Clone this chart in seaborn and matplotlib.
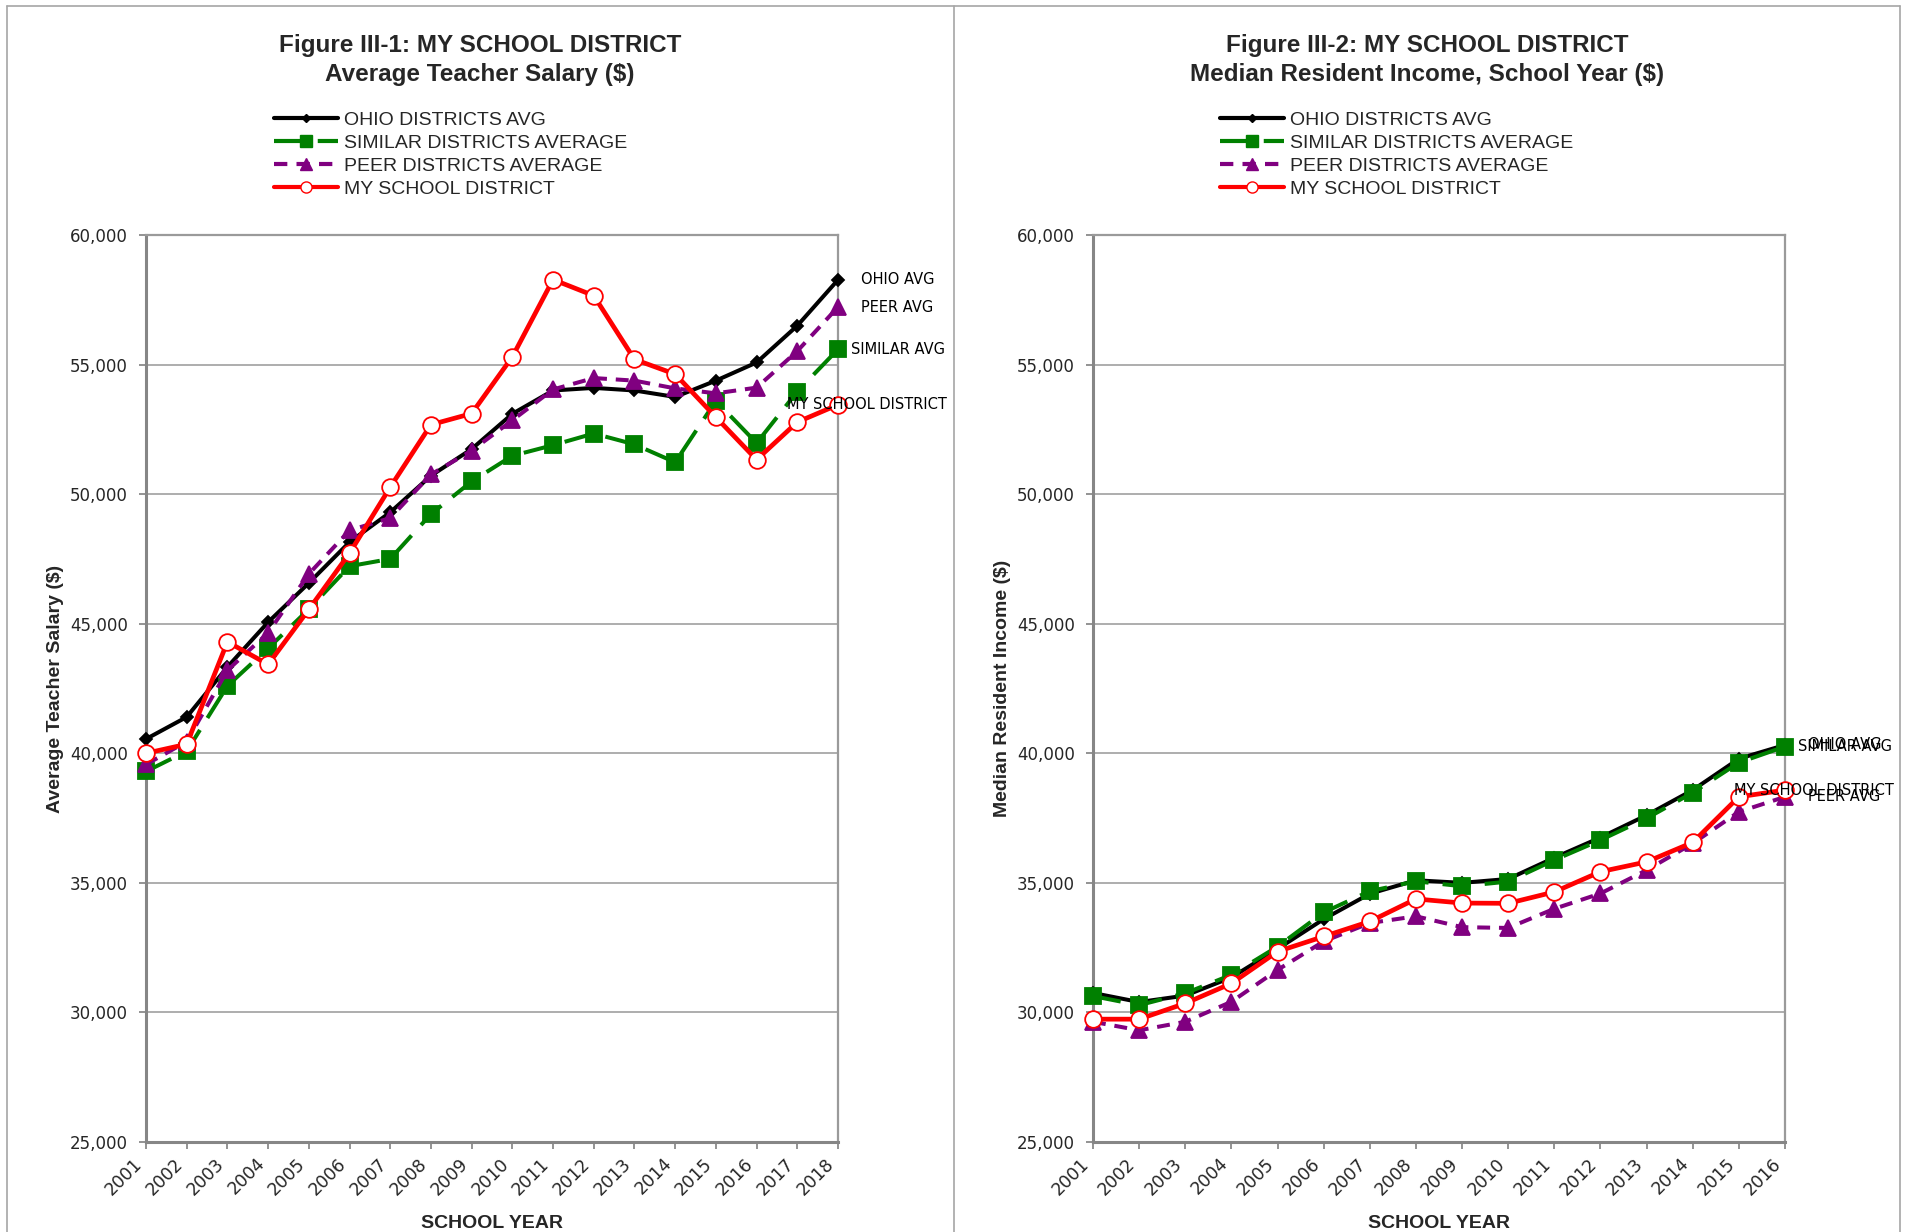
import matplotlib
matplotlib.use("Agg")
import matplotlib.pyplot as plt
from matplotlib.lines import Line2D
from matplotlib.ticker import FuncFormatter
from matplotlib.transforms import ScaledTranslation
import seaborn as sns

# ---- data ----
years_salary = list(range(2001, 2019))
ohio_salary = [40550, 41400, 43330, 45060, 46570, 48150, 49300, 50710, 51740,
               53100, 54000, 54100, 54000, 53750, 54380, 55080, 56500, 58270]
similar_salary = [39300, 40080, 42600, 44050, 45560, 47220, 47500, 49230, 50490,
                  51480, 51890, 52340, 51920, 51230, 53600, 51970, 53960, 55590]
peer_salary = [39570, 40450, 43200, 44650, 46920, 48600, 49080, 50760, 51680,
               52850, 54040, 54480, 54380, 54080, 53890, 54110, 55520, 57220]
my_salary = [40000, 40350, 44300, 43430, 45550, 47720, 50270, 52680, 53110,
             55300, 58280, 57660, 55200, 54630, 52970, 51330, 52780, 53450]

years_income = list(range(2001, 2017))
ohio_income = [30750, 30400, 30650, 31350, 32450, 33600, 34580, 35100, 35000,
               35150, 35970, 36750, 37610, 38580, 39790, 40320]
similar_income = [30630, 30280, 30740, 31450, 32540, 33860, 34680, 35060, 34870,
                  35050, 35880, 36650, 37490, 38480, 39640, 40260]
peer_income = [29640, 29310, 29640, 30410, 31640, 32740, 33450, 33710, 33290,
               33260, 34000, 34590, 35490, 36520, 37740, 38320]
my_income = [29740, 29740, 30350, 31120, 32350, 32930, 33510, 34380, 34220,
             34210, 34650, 35430, 35810, 36560, 38320, 38580]

legend_labels = ["OHIO DISTRICTS AVG", "SIMILAR DISTRICTS AVERAGE",
                 "PEER DISTRICTS AVERAGE", "MY SCHOOL DISTRICT"]
end_labels = ["OHIO AVG", "SIMILAR AVG", "PEER AVG", "MY SCHOOL DISTRICT"]

sns.set_style("white")
plt.rcParams["font.family"] = ["Liberation Sans", "DejaVu Sans"]

# style per series: colour, marker, marker size, linestyle, lw, label x offset (px)
styles = [
    dict(color="black", marker="D", ms=6.5, ls="-", lw=2.9, mfc="black", mec="black", dx=23),
    dict(color="#008000", marker="s", ms=11.5, ls=(0, (7, 3.5)), lw=2.9, mfc="#008000", mec="#008000", dx=13),
    dict(color="#800080", marker="^", ms=11, ls=(0, (3.2, 2.2)), lw=2.9, mfc="#800080", mec="#800080", dx=23),
    dict(color="#ff0000", marker="o", ms=12, ls="-", lw=3.4, mfc="white", mec="#ff0000", dx=-51),
]

fig = plt.figure(figsize=(19.07, 12.32), dpi=100)

# panel frames
for x in [7 / 1907, 954 / 1907, 1900 / 1907]:
    fig.add_artist(Line2D([x, x], [0, 1 - 6 / 1232], transform=fig.transFigure,
                          color="#a6a6a6", lw=1.2))
fig.add_artist(Line2D([7 / 1907, 1900 / 1907], [1 - 6 / 1232, 1 - 6 / 1232],
                      transform=fig.transFigure, color="#a6a6a6", lw=1.2))

panels = [
    dict(left=146, years=years_salary,
         series=[ohio_salary, similar_salary, peer_salary, my_salary],
         title="Figure III-1: MY SCHOOL DISTRICT\nAverage Teacher Salary ($)",
         ylabel="Average Teacher Salary ($)", title_x=480, legend_x=274),
    dict(left=1093, years=years_income,
         series=[ohio_income, similar_income, peer_income, my_income],
         title="Figure III-2: MY SCHOOL DISTRICT\nMedian Resident Income, School Year ($)",
         ylabel="Median Resident Income ($)", title_x=1427, legend_x=1220),
]

W, H = 1907, 1232
shift = ScaledTranslation(10 / 100, -4 / 100, fig.dpi_scale_trans)
for p in panels:
    ax = fig.add_axes([p["left"] / W, 1 - 1142 / H, 692 / W, 907 / H])
    for vals, st in zip(p["series"], styles):
        sns.lineplot(x=p["years"], y=vals, ax=ax, color=st["color"], marker=st["marker"],
                     markersize=st["ms"], linestyle=st["ls"], linewidth=st["lw"],
                     markerfacecolor=st["mfc"], markeredgecolor=st["mec"],
                     markeredgewidth=1.3, clip_on=False, zorder=3)
    for vals, st, lab in zip(p["series"], styles, end_labels):
        ax.annotate(lab, xy=(p["years"][-1], vals[-1]), xytext=(st["dx"], 0),
                    textcoords="offset pixels", ha="left", va="center",
                    fontsize=10.5, family="DejaVu Sans", color="black",
                    annotation_clip=False)

    ax.set_xlim(p["years"][0], p["years"][-1])
    ax.set_ylim(25000, 60000)
    ax.set_yticks(range(25000, 60001, 5000))
    ax.set_xticks(p["years"])
    ax.yaxis.set_major_formatter(FuncFormatter(lambda v, _: f"{int(v):,}"))
    ax.set_xticklabels([str(y) for y in p["years"]], rotation=45, ha="right",
                       family="DejaVu Sans", fontsize=12.5)
    for t in ax.get_xticklabels():
        t.set_transform(t.get_transform() + shift)
    for t in ax.get_yticklabels():
        t.set_family("DejaVu Sans")
        t.set_fontsize(12)
    ax.tick_params(axis="y", length=5, width=1.2, color="#808080", pad=8, left=True)
    ax.tick_params(axis="x", length=5, width=1.2, color="#808080", pad=4, bottom=True)
    ax.grid(axis="y", color="#a0a0a0", lw=1.2)
    ax.grid(axis="x", visible=False)
    ax.set_axisbelow(True)
    for side in ["left", "bottom"]:
        ax.spines[side].set_color("#868686")
        ax.spines[side].set_linewidth(2.2)
    for side in ["top", "right"]:
        ax.spines[side].set_color("#9a9a9a")
        ax.spines[side].set_linewidth(1.6)

    ax.set_xlabel("SCHOOL YEAR", fontsize=14, fontweight="bold")
    ax.xaxis.set_label_coords(0.5, -0.080)
    ax.set_ylabel(p["ylabel"], fontsize=14, fontweight="bold")
    ax.yaxis.set_label_coords(-0.119, 0.5)

    fig.text(p["title_x"] / W, 1 - 60 / H, p["title"], ha="center", va="center",
             fontsize=17.5, fontweight="bold", linespacing=1.35)

    handles = [
        Line2D([], [], color="black", lw=3, marker="D", ms=4.5),
        Line2D([], [], color="#008000", lw=3, ls=(0, (7, 3.5)), marker="s", ms=8),
        Line2D([], [], color="#800080", lw=3, ls=(0, (3.2, 2.2)), marker="^", ms=8),
        Line2D([], [], color="#ff0000", lw=3, marker="o", ms=8,
               markerfacecolor="white", markeredgecolor="#ff0000"),
    ]
    ax.legend(handles, legend_labels, loc="upper left",
              bbox_to_anchor=(p["legend_x"] / W, 1 - 111 / H),
              bbox_transform=fig.transFigure, frameon=False, fontsize=14,
              borderpad=0, borderaxespad=0, handlelength=3.3, handletextpad=0.3,
              labelspacing=0.28)

fig.savefig("out.png", dpi=100)
